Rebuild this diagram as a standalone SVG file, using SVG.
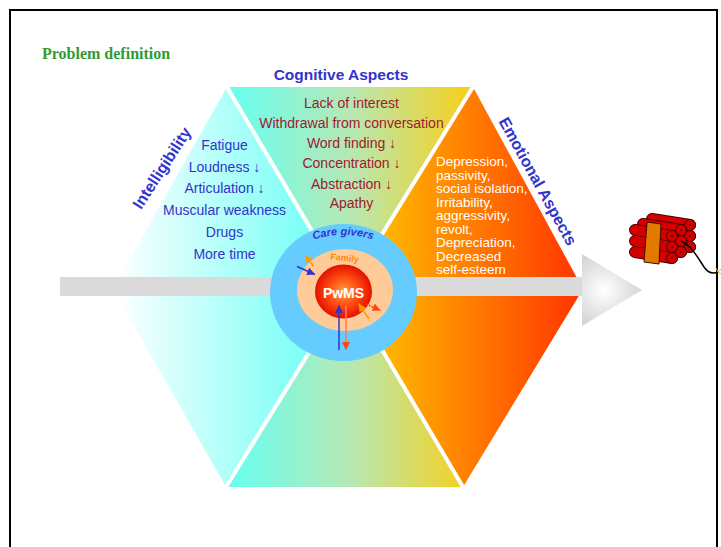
<svg xmlns="http://www.w3.org/2000/svg" width="721" height="547" viewBox="0 0 721 547">
  <defs>
    <linearGradient id="gLeft" gradientUnits="userSpaceOnUse" x1="113" y1="0" x2="346" y2="0">
      <stop offset="0" stop-color="#ffffff"/>
      <stop offset="1" stop-color="#5ffff4"/>
    </linearGradient>
    <linearGradient id="gMid" gradientUnits="userSpaceOnUse" x1="227" y1="0" x2="473" y2="0">
      <stop offset="0" stop-color="#66fff2"/>
      <stop offset="0.5" stop-color="#b6e8b4"/>
      <stop offset="1" stop-color="#f9cf18"/>
    </linearGradient>
    <linearGradient id="gRight" gradientUnits="userSpaceOnUse" x1="370" y1="0" x2="583" y2="0">
      <stop offset="0" stop-color="#ffc000"/>
      <stop offset="1" stop-color="#ff3300"/>
    </linearGradient>
    <radialGradient id="gBall" cx="0.5" cy="0.5" r="0.5">
      <stop offset="0" stop-color="#ffa040"/>
      <stop offset="0.55" stop-color="#ff4a10"/>
      <stop offset="1" stop-color="#e31000"/>
    </radialGradient>
    <radialGradient id="gHead" gradientUnits="userSpaceOnUse" cx="604" cy="290" r="40">
      <stop offset="0" stop-color="#ffffff"/>
      <stop offset="1" stop-color="#d2d2d2"/>
    </radialGradient>
    <marker id="mBlue" markerUnits="userSpaceOnUse" markerWidth="8" markerHeight="8" viewBox="0 0 8 8" refX="8" refY="4" orient="auto">
      <path d="M0,0 L8,4 L0,8 z" fill="#3333cc"/>
    </marker>
    <marker id="mOrange" markerUnits="userSpaceOnUse" markerWidth="8" markerHeight="8" viewBox="0 0 8 8" refX="8" refY="4" orient="auto">
      <path d="M0,0 L8,4 L0,8 z" fill="#ff9900"/>
    </marker>
    <marker id="mRed" markerUnits="userSpaceOnUse" markerWidth="8" markerHeight="8" viewBox="0 0 8 8" refX="8" refY="4" orient="auto">
      <path d="M0,0 L8,4 L0,8 z" fill="#ff4411"/>
    </marker>
    <path id="arcCare" d="M263,275 A100,100 0 0 1 423,275"/>
    <style>
      .sans { font-family: "Liberation Sans", Arial, sans-serif; }
      .head { font-weight: bold; fill: #3333cc; }
      .blueList { font-size: 14px; fill: #3333cc; text-anchor: middle; }
      .redList { font-size: 14px; fill: #a01830; text-anchor: middle; }
      .whiteList { font-size: 13.5px; fill: #ffffff; }
      .gap { stroke: #ffffff; stroke-width: 4; fill: none; }
      .stickOut { stroke: #4a0000; stroke-width: 12; stroke-linecap: round; }
      .stickIn { stroke: #d40000; stroke-width: 10; stroke-linecap: round; }
      .cap { fill: #d40000; stroke: #4a0000; stroke-width: 1; }
      .link { fill: none; stroke-width: 1.5; }
    </style>
  </defs>

  <!-- page frame -->
  <path d="M10,547 V10 H717 V547" fill="none" stroke="#000000" stroke-width="2"/>

  <!-- slide title -->
  <text id="title" x="42" y="59" font-family="'Liberation Serif', 'Times New Roman', serif" font-weight="bold" font-size="16" fill="#339933">Problem definition</text>

  <!-- hexagon sectors -->
  <g id="region-intelligibility">
    <polygon points="227,87 113,289 226,487 346,292" fill="url(#gLeft)"/>
  </g>
  <g id="region-cognitive">
    <polygon points="227,87 473,87 346,292" fill="url(#gMid)"/>
  </g>
  <g id="region-bottom">
    <polygon points="226,487 463,487 346,292" fill="url(#gMid)"/>
  </g>
  <g id="region-emotional">
    <polygon points="473,87 583,289 463,487 346,292" fill="url(#gRight)"/>
  </g>
  <!-- white separations along the diagonals -->
  <line class="gap" x1="227" y1="87" x2="463" y2="487"/>
  <line class="gap" x1="473" y1="87" x2="226" y2="487"/>

  <!-- big horizontal arrow -->
  <g id="main-arrow">
    <rect x="60" y="277" width="524" height="19" fill="#dadada"/>
    <polygon points="582,254 642,290 582,326" fill="url(#gHead)"/>
  </g>

  <!-- circles of people around the person with MS -->
  <g id="care-givers">
    <ellipse cx="343.5" cy="292.5" rx="73.5" ry="68.5" fill="#66ccff"/>
    <text class="sans" font-size="11" font-weight="bold" font-style="italic" fill="#3333cc">
      <textPath href="#arcCare" startOffset="50%" text-anchor="middle">Care givers</textPath>
    </text>
  </g>
  <g id="family">
    <ellipse cx="345" cy="290" rx="48" ry="41" fill="#ffcc99"/>
    <text class="sans" x="344.5" y="261" font-size="9" font-weight="bold" fill="#ff8800" text-anchor="middle" transform="rotate(6 344.5 258)">Family</text>
  </g>
  <g id="pwms">
    <ellipse cx="343.5" cy="291.5" rx="28.5" ry="27" fill="url(#gBall)"/>
    <text class="sans" x="343.5" y="297.5" font-size="14" font-weight="bold" fill="#ffffff" text-anchor="middle">PwMS</text>
  </g>

  <!-- interaction arrows between the circles -->
  <g id="connectors">
    <line class="link" x1="297" y1="266.5" x2="315" y2="274.5" stroke="#3333cc" marker-end="url(#mBlue)"/>
    <line class="link" x1="313.5" y1="266.5" x2="305" y2="255" stroke="#ff9900" marker-end="url(#mOrange)"/>
    <line class="link" x1="339" y1="350" x2="339" y2="305" stroke="#3333cc" marker-end="url(#mBlue)"/>
    <line class="link" x1="346" y1="305" x2="346" y2="350" stroke="#ff7a55" marker-end="url(#mRed)"/>
    <line class="link" x1="369" y1="319" x2="358.5" y2="303.5" stroke="#ff9900" marker-end="url(#mOrange)"/>
    <line class="link" x1="366" y1="304" x2="380.5" y2="310.5" stroke="#ff4411" stroke-dasharray="2 1" marker-end="url(#mRed)"/>
  </g>

  <!-- sector labels -->
  <text class="sans head" x="341" y="80" font-size="15.5" text-anchor="middle">Cognitive Aspects</text>
  <text class="sans head" font-size="16" text-anchor="middle" transform="translate(166.5 171) rotate(-57)">Intelligibility</text>
  <text class="sans head" font-size="16" text-anchor="middle" transform="translate(533 184) rotate(61)">Emotional Aspects</text>

  <!-- sector contents -->
  <g class="sans redList">
    <text x="351.5" y="108">Lack of interest</text>
    <text x="351.5" y="128">Withdrawal from conversation</text>
    <text x="351.5" y="148">Word finding ↓</text>
    <text x="351.5" y="168">Concentration ↓</text>
    <text x="351.5" y="189">Abstraction ↓</text>
    <text x="351.5" y="208">Apathy</text>
  </g>
  <g class="sans blueList">
    <text x="224.5" y="150">Fatigue</text>
    <text x="224.5" y="171.5">Loudness ↓</text>
    <text x="224.5" y="193">Articulation ↓</text>
    <text x="224.5" y="215">Muscular weakness</text>
    <text x="224.5" y="237">Drugs</text>
    <text x="224.5" y="258.5">More time</text>
  </g>
  <g class="sans whiteList">
    <text x="436" y="166">Depression,</text>
    <text x="436" y="179.5">passivity,</text>
    <text x="436" y="193">social isolation,</text>
    <text x="436" y="206.5">Irritability,</text>
    <text x="436" y="220">aggressivity,</text>
    <text x="436" y="233.5">revolt,</text>
    <text x="436" y="247">Depreciation,</text>
    <text x="436" y="260.5">Decreased</text>
    <text x="436" y="274">self-esteem</text>
  </g>

  <!-- bundle of dynamite -->
  <g id="dynamite">
    <!-- back layer -->
    <line class="stickOut" x1="652" y1="219" x2="690" y2="225"/>
    <line class="stickOut" x1="652" y1="230" x2="690" y2="236"/>
    <line class="stickOut" x1="652" y1="241" x2="690" y2="247"/>
    <line class="stickIn" x1="652" y1="219" x2="690" y2="225"/>
    <line class="stickIn" x1="652" y1="230" x2="690" y2="236"/>
    <line class="stickIn" x1="652" y1="241" x2="690" y2="247"/>
    <circle class="cap" cx="690" cy="225" r="5.5"/>
    <circle class="cap" cx="690" cy="236" r="5.5"/>
    <circle class="cap" cx="690" cy="247" r="5.5"/>
    <!-- middle layer -->
    <line class="stickOut" x1="643" y1="224" x2="681" y2="230"/>
    <line class="stickOut" x1="643" y1="235" x2="681" y2="241"/>
    <line class="stickOut" x1="643" y1="246" x2="681" y2="252"/>
    <line class="stickIn" x1="643" y1="224" x2="681" y2="230"/>
    <line class="stickIn" x1="643" y1="235" x2="681" y2="241"/>
    <line class="stickIn" x1="643" y1="246" x2="681" y2="252"/>
    <circle class="cap" cx="681" cy="230" r="5.5"/>
    <circle class="cap" cx="681" cy="241" r="5.5"/>
    <circle class="cap" cx="681" cy="252" r="5.5"/>
    <!-- front layer -->
    <line class="stickOut" x1="635" y1="230" x2="672" y2="236"/>
    <line class="stickOut" x1="635" y1="241" x2="672" y2="247"/>
    <line class="stickOut" x1="635" y1="252" x2="672" y2="258"/>
    <line class="stickIn" x1="635" y1="230" x2="672" y2="236"/>
    <line class="stickIn" x1="635" y1="241" x2="672" y2="247"/>
    <line class="stickIn" x1="635" y1="252" x2="672" y2="258"/>
    <polygon points="647,222 661,224 659,264 644,262" fill="#e27a00" stroke="#4a0000" stroke-width="1"/>
    <circle class="cap" cx="672" cy="236" r="5.5"/>
    <circle class="cap" cx="672" cy="247" r="5.5"/>
    <circle class="cap" cx="672" cy="258" r="5.5"/>
    <g fill="#4a0000">
      <circle cx="672" cy="236" r="0.9"/><circle cx="672" cy="247" r="0.9"/><circle cx="672" cy="258" r="0.9"/>
      <circle cx="681" cy="230" r="0.9"/><circle cx="681" cy="252" r="0.9"/>
      <circle cx="690" cy="225" r="0.9"/><circle cx="690" cy="236" r="0.9"/><circle cx="690" cy="247" r="0.9"/>
    </g>
    <!-- fuse and spark -->
    <path d="M681,241 C692,246 698,258 704,267 C708,273 713,274 718,272" fill="none" stroke="#000000" stroke-width="1.5"/>
    <g stroke="#ffaa00" stroke-width="1">
      <line x1="718" y1="272" x2="721" y2="269"/>
      <line x1="718" y1="272" x2="721" y2="274"/>
      <line x1="718" y1="272" x2="716" y2="268"/>
    </g>
  </g>
</svg>
